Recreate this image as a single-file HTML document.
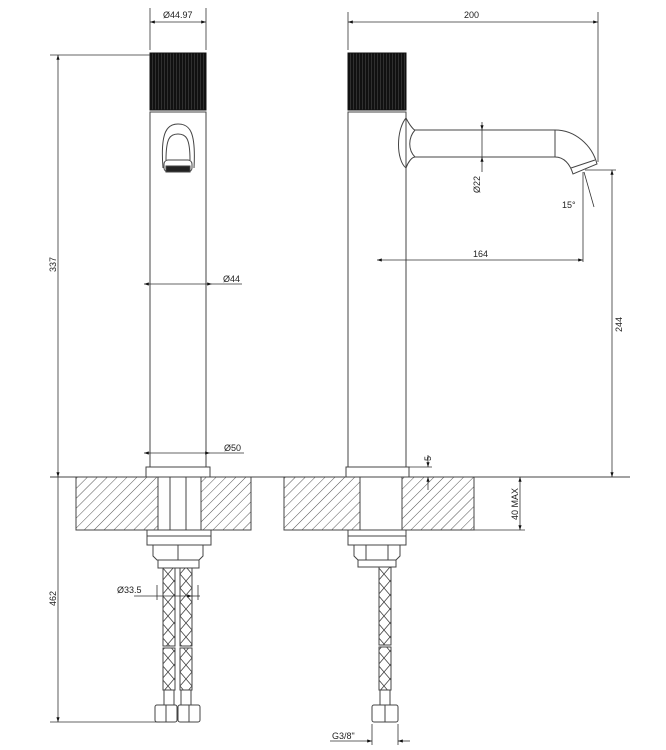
<!DOCTYPE html>
<html><head><meta charset="utf-8"><style>html,body{margin:0;padding:0;background:#fff}svg{display:block}text{font-family:"Liberation Sans",sans-serif;font-size:9px;fill:#222}</style></head><body>
<svg width="666" height="750" viewBox="0 0 666 750" xmlns="http://www.w3.org/2000/svg">
<defs>
<pattern id="h" patternUnits="userSpaceOnUse" width="7" height="7" patternTransform="rotate(45)"><line x1="0" y1="0" x2="0" y2="7" stroke="#555" stroke-width="1"/></pattern>
<pattern id="k" patternUnits="userSpaceOnUse" width="3" height="10"><rect width="3" height="10" fill="#111"/><line x1="2.5" y1="0" x2="2.5" y2="10" stroke="#444" stroke-width="0.6"/></pattern>
<pattern id="x" patternUnits="userSpaceOnUse" width="12" height="14"><path d="M0,0 L12,14 M12,0 L0,14" stroke="#444" stroke-width="0.8" fill="none"/></pattern>
<marker id="a" markerWidth="6" markerHeight="4" refX="6" refY="2" orient="auto-start-reverse"><path d="M0,0 L6,2 L0,4z" fill="#111"/></marker>
</defs>
<g fill="none" stroke="#444" stroke-width="1">
<rect x="76" y="477" width="82" height="53" fill="url(#h)"/>
<rect x="201" y="477" width="50" height="53" fill="url(#h)"/>
<rect x="284" y="477" width="76" height="53" fill="url(#h)"/>
<rect x="402" y="477" width="72" height="53" fill="url(#h)"/>
<line x1="50" y1="477" x2="630" y2="477"/>
<rect x="158" y="477" width="43" height="53"/><line x1="170" y1="477" x2="170" y2="530"/><line x1="186" y1="477" x2="186" y2="530"/>
<rect x="360" y="477" width="42" height="53"/>
<rect x="150" y="53" width="56" height="57" fill="url(#k)" stroke="#111"/>
<rect x="150" y="112" width="56" height="355"/>
<rect x="146" y="467" width="64" height="10"/>
<path d="M163,168 C160,130 168,124 178,124 C190,124 196,132 194,168" />
<path d="M166,160 C166,138 170,134 178,134 C186,134 190,138 190,160"/>
<rect x="164" y="160" width="28" height="12" rx="4" fill="#fff"/>
<rect x="166" y="166" width="24" height="6" fill="#222"/>
<rect x="147" y="530" width="64" height="15"/><line x1="147" y1="536" x2="211" y2="536"/>
<path d="M153,545 H203 V556 L199,560 H157 L153,556Z"/><line x1="178" y1="545" x2="178" y2="560"/>
<rect x="158" y="560" width="41" height="8"/>
<rect x="163" y="568" width="12" height="78" fill="url(#x)"/>
<rect x="180" y="568" width="12" height="78" fill="url(#x)"/>
<rect x="163" y="648" width="12" height="42" fill="url(#x)"/>
<rect x="180" y="648" width="12" height="42" fill="url(#x)"/>
<rect x="164" y="690" width="10" height="15"/><rect x="181" y="690" width="10" height="15"/>
<rect x="155" y="705" width="22" height="17" rx="2"/><rect x="178" y="705" width="22" height="17" rx="2"/>
<line x1="166" y1="705" x2="166" y2="722"/><line x1="189" y1="705" x2="189" y2="722"/>
<rect x="348" y="53" width="58" height="57" fill="url(#k)" stroke="#111"/>
<rect x="348" y="112" width="58" height="355"/>
<rect x="346" y="467" width="63" height="10"/>
<path d="M406,118 C396,130 396,160 406,168"/>
<path d="M406,118 C410,126 414,130 415,130 H555 C575,130 592,145 597,164 L573,174 C570,164 564,157 555,157 H415 C412,157 408,162 406,168"/>
<path d="M415,130 C408,138 408,150 415,157"/>
<line x1="555" y1="130" x2="555" y2="157"/>
<line x1="571" y1="168" x2="595" y2="160"/>
<rect x="348" y="530" width="58" height="15"/><line x1="348" y1="536" x2="406" y2="536"/>
<path d="M354,545 H400 V556 L396,560 H358 L354,556Z"/><line x1="366" y1="545" x2="366" y2="560"/><line x1="388" y1="545" x2="388" y2="560"/>
<rect x="358" y="560" width="38" height="7"/>
<rect x="379" y="567" width="12" height="78" fill="url(#x)"/>
<rect x="379" y="647" width="12" height="43" fill="url(#x)"/>
<rect x="380" y="690" width="10" height="15"/>
<rect x="372" y="705" width="26" height="17" rx="2"/><line x1="385" y1="705" x2="385" y2="722"/>
</g>
<g fill="none" stroke="#333" stroke-width="0.8">
<line x1="150" y1="8" x2="150" y2="50"/><line x1="206" y1="8" x2="206" y2="50"/>
<line x1="150" y1="22" x2="206" y2="22" marker-start="url(#a)" marker-end="url(#a)"/>
<line x1="50" y1="55" x2="150" y2="55"/>
<line x1="58" y1="55" x2="58" y2="477" marker-start="url(#a)" marker-end="url(#a)"/>
<line x1="58" y1="477" x2="58" y2="722" marker-end="url(#a)"/>
<line x1="50" y1="722" x2="160" y2="722"/>
<line x1="144" y1="284" x2="212" y2="284" marker-start="url(#a)" marker-end="url(#a)"/><line x1="212" y1="284" x2="242" y2="284"/>
<line x1="144" y1="453" x2="210" y2="453" marker-start="url(#a)" marker-end="url(#a)"/><line x1="210" y1="453" x2="244" y2="453"/>
<line x1="134" y1="596" x2="192" y2="596" marker-end="url(#a)"/><line x1="192" y1="596" x2="200" y2="596"/>
<line x1="157" y1="585" x2="157" y2="600"/><line x1="198" y1="585" x2="198" y2="600"/>
<line x1="348" y1="12" x2="348" y2="50"/><line x1="598" y1="12" x2="598" y2="162"/>
<line x1="348" y1="22" x2="598" y2="22" marker-start="url(#a)" marker-end="url(#a)"/>
<line x1="482" y1="122" x2="482" y2="130" marker-end="url(#a)"/><line x1="482" y1="130" x2="482" y2="157"/><line x1="482" y1="157" x2="482" y2="172" marker-start="url(#a)"/>
<line x1="377" y1="260" x2="583" y2="260" marker-start="url(#a)" marker-end="url(#a)"/>
<line x1="583" y1="172" x2="583" y2="262"/>
<line x1="584" y1="172" x2="594" y2="207"/>
<line x1="585" y1="170" x2="616" y2="170"/>
<line x1="612" y1="170" x2="612" y2="477" marker-start="url(#a)" marker-end="url(#a)"/>
<line x1="409" y1="467" x2="432" y2="467"/>
<line x1="428" y1="455" x2="428" y2="467" marker-end="url(#a)"/><line x1="428" y1="477" x2="428" y2="490" marker-start="url(#a)"/>
<line x1="474" y1="530" x2="525" y2="530"/>
<line x1="520" y1="477" x2="520" y2="530" marker-start="url(#a)" marker-end="url(#a)"/>
<line x1="372" y1="724" x2="372" y2="745"/><line x1="398" y1="724" x2="398" y2="745"/>
<line x1="330" y1="741" x2="372" y2="741" marker-end="url(#a)"/><line x1="398" y1="741" x2="410" y2="741" marker-start="url(#a)"/>
</g>
<g>
<text x="163" y="18">Ø44.97</text>
<text x="223" y="282">Ø44</text>
<text x="224" y="451">Ø50</text>
<text x="117" y="593">Ø33.5</text>
<text x="464" y="18">200</text>
<text x="473" y="257">164</text>
<text x="562" y="208">15°</text>
<text x="332" y="739">G3/8"</text>
<text transform="translate(56,272) rotate(-90)">337</text>
<text transform="translate(56,606) rotate(-90)">462</text>
<text transform="translate(622,332) rotate(-90)">244</text>
<text transform="translate(480,193) rotate(-90)">Ø22</text>
<text transform="translate(431,461) rotate(-90)">5</text>
<text transform="translate(518,520) rotate(-90)">40 MAX</text>
</g>
</svg>
</body></html>
